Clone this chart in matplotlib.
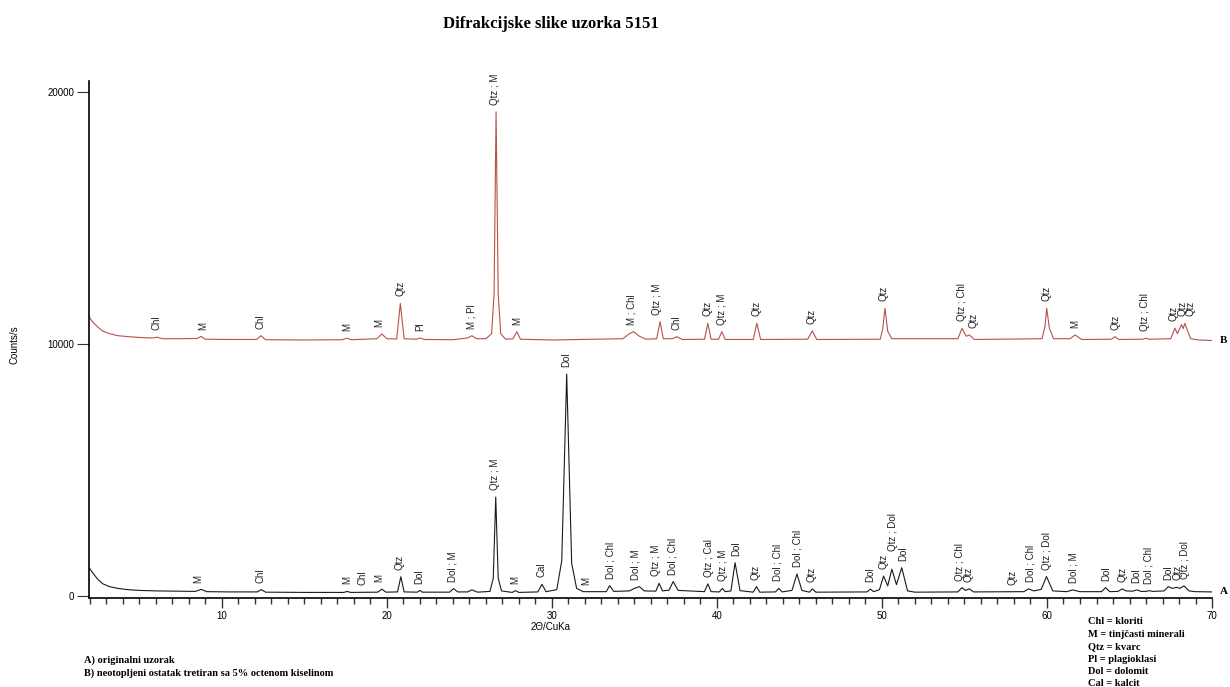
import matplotlib
matplotlib.use('Agg')
import matplotlib.pyplot as plt
from matplotlib.ticker import MultipleLocator

# Uzorak A (originalni) - tocke krivulje citane sa slike
tth_A = [1.93, 2.2, 2.5, 2.8, 3.2, 3.7, 4.3, 5.0, 6.0, 7.0, 8.4, 8.75, 9.1, 10.5, 12.15, 12.4, 12.65,
         15.0, 17.4, 17.6, 17.8, 19.45, 19.7, 19.95, 20.65, 20.85, 21.05, 21.85, 22.0, 22.15, 23.8, 24.05,
         24.3, 24.9, 25.15, 25.5, 26.25, 26.45, 26.6, 26.75, 26.95, 27.6, 27.8, 28.0, 29.15, 29.4, 29.65,
         30.3, 30.6, 30.9, 31.2, 31.5, 31.9, 33.3, 33.5, 33.75, 34.7, 35.0, 35.3, 35.6, 36.3, 36.5, 36.7,
         37.1, 37.35, 37.65, 39.25, 39.45, 39.65, 40.15, 40.33, 40.5, 40.85, 41.1, 41.4, 42.2, 42.4, 42.6,
         43.55, 43.75, 43.95, 44.55, 44.85, 45.15, 45.6, 45.78, 46.0, 49.1, 49.3, 49.5, 49.85, 50.1, 50.35,
         50.6, 50.88, 51.2, 51.55, 52.0, 54.6, 54.85, 55.05, 55.3, 55.55, 58.6, 58.88, 59.2, 59.65, 59.97,
         60.35, 61.2, 61.55, 62.0, 63.3, 63.55, 63.8, 64.3, 64.55, 64.8, 65.2, 65.45, 65.7, 66.0, 66.2,
         66.4, 67.1, 67.35, 67.6, 67.85, 68.05, 68.3, 68.6, 69.0, 70.0]
cnt_A = [1150, 900, 650, 480, 370, 300, 250, 220, 200, 190, 180, 260, 170, 160, 160, 250, 150,
         140, 140, 180, 140, 150, 270, 150, 160, 760, 160, 150, 220, 150, 150, 290,
         160, 160, 240, 150, 180, 700, 3920, 700, 200, 140, 210, 140, 160, 460, 170,
         250, 1400, 8800, 1300, 300, 170, 170, 410, 180, 200, 300, 370, 200, 190, 500, 200,
         230, 570, 220, 170, 480, 170, 160, 300, 170, 200, 1320, 210, 150, 370, 150,
         160, 300, 160, 220, 870, 220, 150, 280, 150, 160, 270, 170, 250, 790, 400,
         1060, 450, 1120, 200, 150, 160, 330, 220, 280, 160, 170, 280, 200, 260, 770,
         200, 170, 240, 170, 170, 330, 170, 180, 280, 200, 190, 240, 180, 180, 210,
         180, 200, 370, 300, 340, 300, 400, 200, 170, 160]

# Uzorak B (tretiran octenom kiselinom), pomaknut za 10000
offset_B = 10000
tth_B = [1.93, 2.2, 2.5, 2.8, 3.2, 3.7, 4.4, 5.0, 5.8, 6.1, 6.4, 7.5, 8.5, 8.75, 9.0, 10.5, 12.1, 12.38,
         12.65, 15.0, 17.3, 17.58, 17.85, 19.4, 19.7, 20.0, 20.6, 20.82, 21.05, 21.8, 22.02, 22.25, 24.0,
         24.9, 25.15, 25.45, 26.0, 26.35, 26.5, 26.62, 26.75, 26.9, 27.2, 27.65, 27.88, 28.1, 30.0, 34.3,
         34.7, 34.95, 35.3, 35.7, 36.35, 36.56, 36.75, 37.3, 37.57, 37.9, 39.25, 39.45, 39.65, 40.1, 40.3,
         40.5, 42.2, 42.42, 42.65, 45.5, 45.78, 46.05, 49.9, 50.05, 50.18, 50.35, 50.6, 54.6, 54.85, 55.1,
         55.3, 55.6, 59.7, 59.88, 59.98, 60.15, 60.4, 61.4, 61.7, 62.1, 63.9, 64.12, 64.35, 65.8, 66.0,
         66.2, 67.5, 67.75, 67.9, 68.15, 68.25, 68.35, 68.7, 69.2, 70.0]
cnt_B = [1100, 850, 650, 500, 400, 320, 280, 250, 230, 260, 200, 200, 210, 290, 180, 170, 170, 320,
         160, 150, 160, 220, 160, 200, 390, 200, 190, 1600, 200, 180, 230, 170, 160,
         230, 320, 200, 200, 400, 2000, 9200, 2000, 400, 180, 200, 480, 180, 150, 200,
         400, 480, 300, 180, 200, 880, 200, 200, 280, 170, 180, 810, 180, 180, 480,
         170, 170, 810, 170, 180, 510, 170, 180, 600, 1410, 500, 200, 200, 610, 300,
         350, 170, 200, 700, 1410, 600, 200, 200, 350, 170, 180, 280, 170, 180, 220,
         180, 200, 620, 400, 760, 600, 810, 200, 150, 130]

# oznake faza: polozaj, tekst, visina pika
lab_x_A = [8.6, 12.32, 17.58, 18.55, 19.55, 20.76, 21.98, 24.0, 26.56, 27.78, 29.35, 30.87, 32.08,
           33.53, 35.05, 36.32, 37.33, 39.5, 40.34, 41.17, 42.32, 43.7, 44.9, 45.76, 49.29, 50.1,
           50.7, 51.27, 54.7, 55.25, 57.88, 58.99, 60.0, 61.6, 63.58, 64.55, 65.4, 66.16, 67.37,
           67.88, 68.38]
lab_t_A = ['M', 'Chl', 'M', 'Chl', 'M', 'Qtz', 'Dol', 'Dol ; M', 'Qtz ; M', 'M', 'Cal', 'Dol', 'M',
           'Dol ; Chl', 'Dol ; M', 'Qtz ; M', 'Dol ; Chl', 'Qtz ; Cal', 'Qtz ; M', 'Dol', 'Qtz',
           'Dol ; Chl', 'Dol ; Chl', 'Qtz', 'Dol', 'Qtz', 'Qtz ; Dol', 'Dol', 'Qtz ; Chl', 'Qtz', 'Qtz',
           'Dol ; Chl', 'Qtz ; Dol', 'Dol ; M', 'Dol', 'Qtz', 'Dol', 'Dol ; Chl', 'Dol', 'Qtz', 'Qtz ; Dol']
lab_y_A = [240, 240, 180, 170, 265, 766, 210, 290, 3920, 210, 460, 8800, 170,
           410, 370, 500, 570, 475, 300, 1320, 370, 300, 870, 280, 270, 790,
           1500, 1120, 330, 280, 170, 280, 770, 240, 330, 280, 240, 210, 370,
           340, 400]

lab_x_B = [6.02, 8.9, 12.32, 17.58, 19.55, 20.8, 22.02, 25.15, 26.56, 27.88, 34.85, 36.36, 37.57,
           39.45, 40.3, 42.38, 45.76, 50.1, 54.85, 55.55, 60.0, 61.7, 64.14, 65.96, 67.67, 68.18, 68.7]
lab_t_B = ['Chl', 'M', 'Chl', 'M', 'M', 'Qtz', 'Pl', 'M ; Pl', 'Qtz ; M', 'M', 'M ; Chl', 'Qtz ; M',
           'Chl', 'Qtz', 'Qtz ; M', 'Qtz', 'Qtz', 'Qtz', 'Qtz ; Chl', 'Qtz', 'Qtz', 'M', 'Qtz',
           'Qtz ; Chl', 'Qtz', 'Qtz', 'Qtz']
lab_y_B = [260, 290, 320, 220, 390, 1600, 230, 320, 9200, 480, 480, 880, 280,
           810, 480, 810, 510, 1410, 610, 350, 1410, 350, 280, 220, 620, 810, 810]

legenda = ['Chl = kloriti', 'M = tinjčasti minerali', 'Qtz = kvarc', 'Pl = plagioklasi',
           'Dol = dolomit', 'Cal = kalcit']

serif = ['Liberation Serif', 'DejaVu Serif']
sans = ['Liberation Sans', 'DejaVu Sans']
plt.rcParams['font.family'] = sans

fig = plt.figure(figsize=(12.3, 6.87), dpi=100)
ax = fig.add_axes([0.072, 0.1296, 0.9134, 0.7525])

cnt_B_plot = [c + offset_B for c in cnt_B]
ax.plot(tth_A, cnt_A, color='#1a1a1a', lw=0.8)
ax.plot(tth_B, cnt_B_plot, color='#b5524c', lw=0.8)

for x, t, y in zip(lab_x_A, lab_t_A, lab_y_A):
    ax.annotate(t, (x, y), xytext=(0, 5), textcoords='offset points', rotation=90,
                ha='center', va='bottom', fontsize=7, color='#222222')
for x, t, y in zip(lab_x_B, lab_t_B, lab_y_B):
    ax.annotate(t, (x, y + offset_B), xytext=(0, 5), textcoords='offset points', rotation=90,
                ha='center', va='bottom', fontsize=7, color='#222222')

# oznake krivulja desno od osi
ax.text(70.5, 170, 'A', fontsize=8, fontweight='bold', family=serif, va='center', clip_on=False)
ax.text(70.5, offset_B + 130, 'B', fontsize=8, fontweight='bold', family=serif, va='center', clip_on=False)

ax.set_xlim(1.93, 70)
ax.set_ylim(-80, 20420)
ax.spines['top'].set_visible(False)
ax.spines['right'].set_visible(False)
ax.spines['left'].set_linewidth(1.2)
ax.spines['bottom'].set_linewidth(1.2)
ax.set_xticks([10, 20, 30, 40, 50, 60, 70])
ax.xaxis.set_minor_locator(MultipleLocator(1))
ax.set_yticks([0, 10000, 20000])
ax.tick_params(axis='x', which='major', length=7.5, width=1, labelsize=7, pad=2, color='#333333')
ax.tick_params(axis='x', which='minor', length=4, width=1, color='#333333')
ax.tick_params(axis='y', length=8.5, width=0.8, labelsize=7, pad=2, color='#333333')

fig.text(0.448, 0.965, 'Difrakcijske slike uzorka 5151', ha='center', va='center',
         fontsize=12, fontweight='bold', family=serif)
fig.text(0.012, 0.498, 'Counts/s', rotation=90, ha='center', va='center', fontsize=7)
fig.text(0.448, 0.0873, '2Θ/CuKa', ha='center', va='center', fontsize=7)

fig.text(0.068, 0.039, 'A) originalni uzorak', ha='left', va='center',
         fontsize=7.5, fontweight='bold', family=serif)
fig.text(0.068, 0.0204, 'B) neotopljeni ostatak tretiran sa 5% octenom kiselinom', ha='left',
         va='center', fontsize=7.5, fontweight='bold', family=serif)

for i, s in enumerate(legenda):
    fig.text(0.8846, 1 - (622 + i * 12.4) / 687, s, ha='left', va='center',
             fontsize=7.5, fontweight='bold', family=serif)

plt.savefig('out.png', dpi=100)
